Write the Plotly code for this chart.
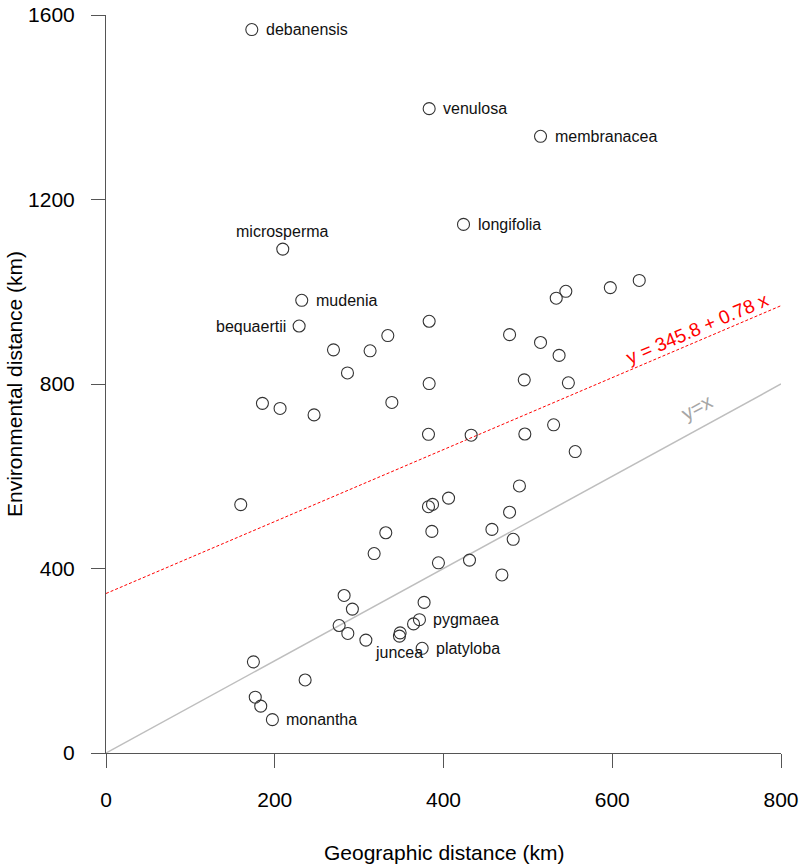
import plotly.graph_objects as go
import math

# ---- data ----
geo = [172.8, 383.0, 515.0, 423.7, 209.5, 232.0, 228.9, 334.0, 269.6, 313.0,
       286.2, 185.4, 206.3, 246.6, 338.8, 383.0, 545.0, 533.6, 597.7, 632.0,
       478.3, 515.0, 537.0, 383.0, 495.7, 548.0, 382.2, 432.8, 496.4, 530.5,
       556.1, 159.7, 382.2, 387.0, 406.0, 331.6, 386.2, 317.8, 394.0, 282.2,
       292.0, 276.3, 286.6, 377.0, 371.5, 364.5, 348.6, 347.8, 308.0, 490.0,
       478.3, 457.4, 482.6, 430.8, 469.2, 374.7, 174.7, 236.0, 176.9, 183.4,
       197.2]
env = [1568.5, 1397.0, 1337.0, 1146.0, 1092.5, 981.5, 925.7, 905.0, 874.0, 872.0,
       824.0, 758.0, 747.0, 733.0, 760.0, 936.0, 1001.0, 986.0, 1009.0, 1024.5,
       907.0, 890.0, 862.0, 801.0, 809.0, 802.6, 691.0, 689.0, 691.6, 711.6,
       653.6, 538.5, 534.0, 539.0, 552.6, 477.5, 480.4, 432.4, 412.4, 341.5,
       312.0, 276.4, 259.2, 326.5, 289.0, 279.9, 260.5, 253.4, 244.8, 579.0,
       522.0, 484.8, 463.3, 418.2, 386.0, 227.0, 197.6, 158.3, 121.0, 101.6,
       72.3]

label_names = ["debanensis", "venulosa", "membranacea", "longifolia", "microsperma",
               "mudenia", "bequaertii", "pygmaea", "juncea", "platyloba", "monantha"]
label_index = [0, 1, 2, 3, 4, 5, 6, 44, 47, 55, 60]
label_pos = ["right", "right", "right", "right", "above", "right", "left",
             "right", "below", "right", "right"]

intercept = 345.8
slope = 0.78
x_ticks = [0, 200, 400, 600, 800]
y_ticks = [0, 400, 800, 1200, 1600]

FONT = "Liberation Sans, Arial, sans-serif"
W, H = 800, 864
ML, MR, MT, MB = 106, 19, 15, 111
pw, ph = W - ML - MR, H - MT - MB
xr, yr = [0, 800], [0, 1600]
sx = pw / (xr[1] - xr[0])
sy = ph / (yr[1] - yr[0])

fig = go.Figure()

# y = x reference line
fig.add_trace(go.Scatter(x=[0, 800], y=[0, 800], mode="lines",
                         line=dict(color="#bebebe", width=1.5),
                         hoverinfo="skip", showlegend=False))
# regression line
fig.add_trace(go.Scatter(x=[0, 800], y=[intercept, intercept + slope * 800], mode="lines",
                         line=dict(color="#ff0000", width=1, dash="3px,2px"),
                         hoverinfo="skip", showlegend=False))
# points
fig.add_trace(go.Scatter(x=geo, y=env, mode="markers",
                         marker=dict(symbol="circle-open", size=12,
                                     line=dict(color="#333333", width=1.1),
                                     color="#333333"),
                         cliponaxis=False, showlegend=False))

annotations = []
for name, idx, pos in zip(label_names, label_index, label_pos):
    a = dict(x=geo[idx], y=env[idx], xref="x", yref="y", text=name, showarrow=False,
             font=dict(family=FONT, size=16, color="#111111"))
    if pos == "right":
        a.update(xanchor="left", yanchor="middle", xshift=12)
    elif pos == "left":
        a.update(xanchor="right", yanchor="middle", xshift=-11)
    elif pos == "above":
        a.update(xanchor="center", yanchor="middle", yshift=18)
    else:
        a.update(xanchor="center", yanchor="middle", yshift=-16)
    annotations.append(a)

# equation text
ang_red = math.degrees(math.atan(slope * sy / sx))
annotations.append(dict(x=701, y=921, xref="x", yref="y",
                        text="y = 345.8 + 0.78 x", showarrow=False,
                        textangle=-ang_red,
                        font=dict(family=FONT, size=19, color="#ff0000")))
ang_gray = math.degrees(math.atan(sy / sx))
annotations.append(dict(x=701, y=750, xref="x", yref="y",
                        text="y=x", showarrow=False, textangle=-ang_gray,
                        font=dict(family=FONT, size=20, color="#a6a6a6")))

# axis titles
annotations.append(dict(x=0.5, y=0, xref="paper", yref="paper",
                        text="Geographic distance (km)", showarrow=False,
                        xanchor="center", yanchor="middle", yshift=-99,
                        font=dict(family=FONT, size=21, color="#000000")))
annotations.append(dict(x=0, y=0.5, xref="paper", yref="paper",
                        text="Environmental distance (km)", showarrow=False,
                        textangle=-90, xanchor="center", yanchor="middle", xshift=-92,
                        font=dict(family=FONT, size=21, color="#000000")))

axis_common = dict(showgrid=False, zeroline=False, showline=True, linecolor="#555555",
                   linewidth=1, ticks="outside", ticklen=14, tickcolor="#555555",
                   tickwidth=1, ticklabeloverflow="allow",
                   tickfont=dict(family=FONT, size=21, color="#000000"))

fig.update_layout(
    width=W, height=H,
    margin=dict(l=ML, r=MR, t=MT, b=MB, autoexpand=False),
    paper_bgcolor="white", plot_bgcolor="white",
    xaxis=dict(range=xr, tickvals=x_ticks, ticktext=[str(v) for v in x_ticks],
               ticklabelstandoff=14, **axis_common),
    yaxis=dict(range=[yr[0], yr[1] + 0.01], tickvals=y_ticks,
               ticktext=[str(v) for v in y_ticks],
               ticklabelstandoff=12, **axis_common),
    annotations=annotations,
    showlegend=False,
)

fig.write_html("out.html")
